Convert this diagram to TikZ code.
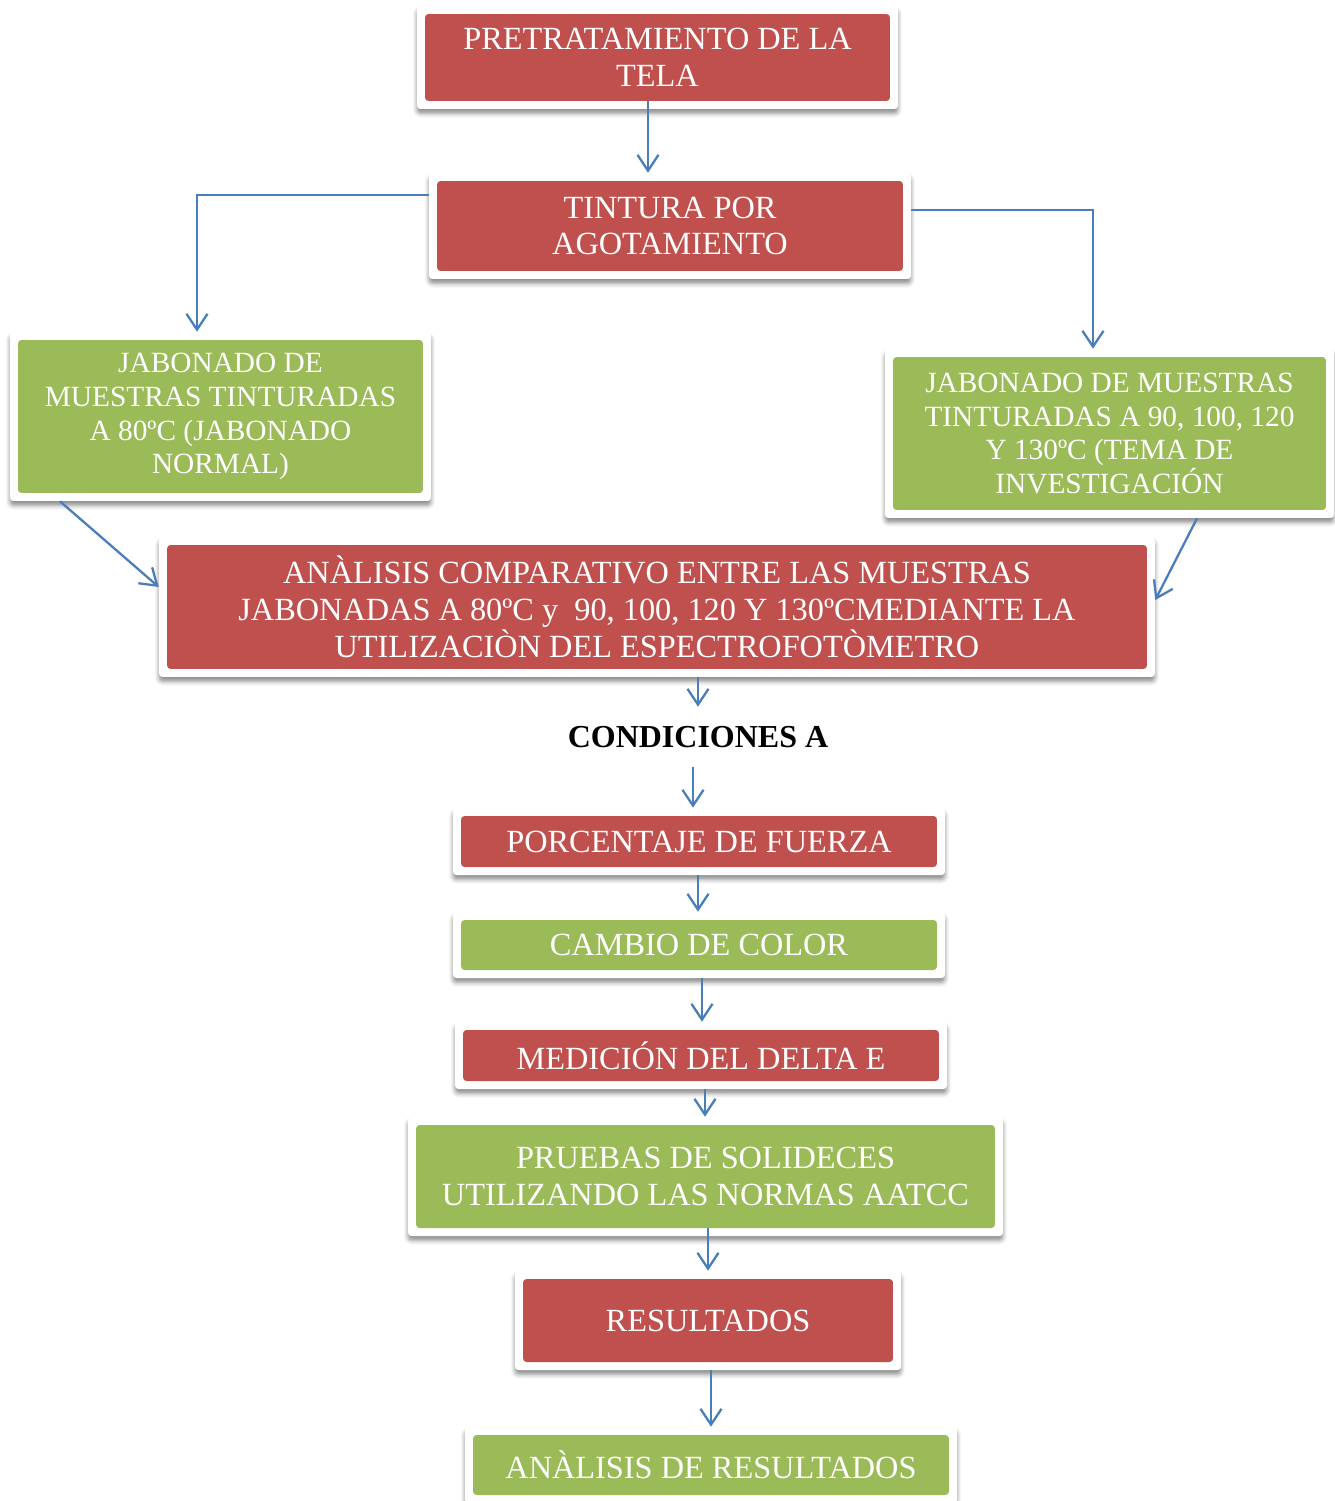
\documentclass[tikz,border=0pt]{standalone}
\usepackage{fontspec}
\setmainfont{Liberation Serif}
\usetikzlibrary{arrows.meta,shadows.blur}
\definecolor{rojo}{HTML}{C0504D}
\definecolor{verde}{HTML}{9BBB59}
\definecolor{azul}{HTML}{4A7EBB}
\tikzset{
  caja/.style={rectangle, fill=white, draw=none, rounded corners=2pt,
    text=white, align=center, inner sep=0pt, font=\fontsize{18.4}{21}\selectfont,
    blur shadow={shadow xshift=0pt, shadow yshift=-2.5pt, shadow blur radius=2.5pt, shadow opacity=45},
    path picture={\fill[#1] ([xshift=0.16cm,yshift=0.16cm]path picture bounding box.south west)
      rectangle ([xshift=-0.16cm,yshift=-0.16cm]path picture bounding box.north east);}},
  chico/.style={font=\fontsize{16.7}{19.3}\selectfont},
  flecha/.style={draw=azul, line width=1.3pt, -{Straight Barb[length=9pt,width=12pt]}},
  bajada/.style={flecha, shorten <=-0.16cm}
}
\begin{document}
\begin{tikzpicture}[x=0.02cm, y=-0.02cm]
    \useasboundingbox (0,0) rectangle (1335,1501);
    % cajas
    \node[caja=rojo, minimum width=9.62cm, minimum height=2.06cm] (pre) at (657.5,57.5)
      {PRETRATAMIENTO DE LA\\TELA};
    \node[caja=rojo, minimum width=9.64cm, minimum height=2.12cm] (tin) at (670,226)
      {TINTURA POR\\AGOTAMIENTO};
    \node[caja=verde, chico, minimum width=8.42cm, minimum height=3.38cm] (jizq) at (220.5,416.5)
      {JABONADO DE\\MUESTRAS TINTURADAS\\A 80ºC (JABONADO\\NORMAL)};
    \node[caja=verde, chico, minimum width=8.98cm, minimum height=3.38cm] (jder) at (1109.5,433.5)
      {JABONADO DE MUESTRAS\\TINTURADAS A 90, 100, 120\\Y 130ºC (TEMA DE\\INVESTIGACIÓN};
    \node[caja=rojo, minimum width=19.92cm, minimum height=2.8cm] (ana) at (657,607)
      {ANÀLISIS COMPARATIVO ENTRE LAS MUESTRAS\\JABONADAS A 80ºC y\ \ 90, 100, 120 Y 130ºCMEDIANTE LA\\UTILIZACIÒN DEL ESPECTROFOTÒMETRO};
    \node[font=\fontsize{18.2}{21}\selectfont\bfseries, minimum height=1.2cm, inner sep=0pt] (cond) at (698,737)
      {CONDICIONES A};
    \node[caja=rojo, minimum width=9.84cm, minimum height=1.34cm] (por) at (699,841.5)
      {PORCENTAJE DE FUERZA};
    \node[caja=verde, minimum width=9.84cm, minimum height=1.32cm] (cam) at (699,945)
      {CAMBIO DE COLOR};
    \node[caja=rojo, minimum width=9.84cm, minimum height=1.34cm] (med) at (701,1055.5)
      {MEDICIÓN DEL DELTA E};
    \node[caja=verde, minimum width=11.9cm, minimum height=2.38cm] (pru) at (705.5,1176.5)
      {PRUEBAS DE SOLIDECES\\UTILIZANDO LAS NORMAS AATCC};
    \node[caja=rojo, minimum width=7.72cm, minimum height=1.98cm] (res) at (708,1320.5)
      {RESULTADOS};
    \node[caja=verde, minimum width=9.84cm, minimum height=1.52cm] (anr) at (711,1465)
      {ANÀLISIS DE RESULTADOS};
    % flechas
    \draw[bajada] (pre.south -| 648,0) -- (tin.north -| 648,0);
    \draw[flecha] (tin.west |- 0,195) -| (jizq.north -| 197,0);
    \draw[flecha] (tin.east |- 0,210) -| (jder.north -| 1093,0);
    \draw[flecha] (jizq.south -| 60,0) -- (ana.west |- 0,587);
    \draw[flecha] (jder.south -| 1197,0) -- (ana.east |- 0,600);
    \draw[flecha] (ana.south -| 698,0) -- (cond.north -| 698,0);
    \draw[flecha] (cond.south -| 693,0) -- (por.north -| 693,0);
    \draw[flecha] (por.south -| 698,0) -- (cam.north -| 698,0);
    \draw[flecha] (cam.south -| 702,0) -- (med.north -| 702,0);
    \draw[flecha] (med.south -| 705,0) -- (pru.north -| 705,0);
    \draw[bajada] (pru.south -| 708,0) -- (res.north -| 708,0);
    \draw[flecha] (res.south -| 711,0) -- (anr.north -| 711,0);
\end{tikzpicture}
\end{document}
